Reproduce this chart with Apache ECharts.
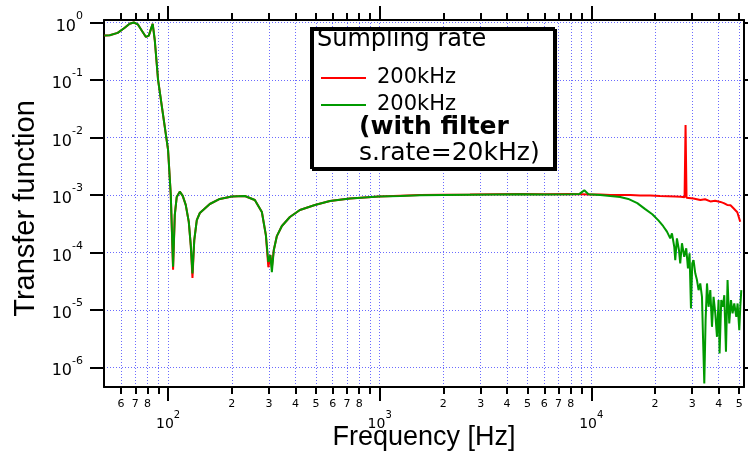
<!DOCTYPE html>
<html><head><meta charset="utf-8">
<script src="https://cdn.jsdelivr.net/npm/echarts@6/dist/echarts.min.js"></script>
<style>html,body{margin:0;padding:0;background:#fff;}#chart{width:748px;height:451px;}</style>
</head><body><div id="chart"></div>
<script>
// ---- data ----
const freqShared = [50, 53, 57.8, 62.4, 65.8, 68.9, 71.9, 75.2, 78.6, 81.1, 82.8, 84.6, 86.5, 89.7, 94.4,
  100, 103, 105.6, 107.6, 109.9, 113.6, 117.3, 121.2, 125.3, 128, 130.4, 133, 136.7, 141.3, 157.5,
  175.6, 200.2, 230.6, 257, 277.5, 289.9, 297.8, 304.4, 309.4, 316, 326.7, 345, 376.5, 419.8, 494,
  582, 723, 992, 1250, 1551, 2000, 2673, 3500, 4610, 6000, 7945];
const redShared = [0.594, 0.60, 0.66, 0.81, 0.95, 1.0, 0.93, 0.72, 0.56, 0.59, 0.75, 0.95, 0.5, 0.1, 0.0267,
  0.00605, 1.0e-3, 5.0e-5, 4.5e-4, 9.2e-4, 1.14e-3, 9.6e-4, 6.7e-4, 3.4e-4, 1.34e-4, 3.6e-5, 1.64e-4, 3.65e-4, 4.84e-4, 6.94e-4,
  8.5e-4, 9.38e-4, 9.57e-4, 8.15e-4, 5.04e-4, 2.0e-4, 5.5e-5, 9.0e-5, 5.5e-5, 1.1e-4, 1.92e-4, 2.88e-4, 4.12e-4, 5.46e-4, 6.67e-4,
  7.83e-4, 8.65e-4, 9.38e-4, 9.7e-4, 9.96e-4, 1.01e-3, 1.016e-3, 1.03e-3, 1.04e-3, 1.03e-3, 1.04e-3];
const greenShared = [0.594, 0.60, 0.66, 0.81, 0.95, 1.0, 0.93, 0.72, 0.56, 0.59, 0.75, 0.95, 0.5, 0.1, 0.0267,
  0.00605, 1.0e-3, 5.6e-5, 4.5e-4, 9.2e-4, 1.14e-3, 9.6e-4, 6.7e-4, 3.4e-4, 1.34e-4, 4.3e-5, 1.64e-4, 3.65e-4, 4.84e-4, 6.94e-4,
  8.5e-4, 9.38e-4, 9.57e-4, 8.15e-4, 5.04e-4, 2.0e-4, 6.8e-5, 9.0e-5, 4.5e-5, 1.1e-4, 1.92e-4, 2.88e-4, 4.12e-4, 5.46e-4, 6.67e-4,
  7.83e-4, 8.65e-4, 9.38e-4, 9.6e-4, 9.9e-4, 1.0e-3, 1.01e-3, 1.02e-3, 1.03e-3, 1.02e-3, 1.03e-3];
const freqRedHigh = [9000, 9900, 11020, 12300, 13700, 15300, 17000, 19000, 21130, 23000, 24900, 26500, 27600, 27900, 28200,
  30370, 32780, 34500, 36540, 38500, 40750, 42300, 43900, 45500, 46880, 49000, 50580];
const redHigh = [1.03e-3, 1.02e-3, 1.016e-3, 1.0e-3, 9.96e-4, 1.0e-3, 9.76e-4, 9.8e-4, 9.57e-4, 9.5e-4, 9.4e-4, 9.3e-4, 9.1e-4, 1.65e-2, 8.9e-4,
  8.65e-4, 8.15e-4, 8.4e-4, 7.7e-4, 7.9e-4, 7.55e-4, 7.2e-4, 6.7e-4, 6.6e-4, 5.9e-4, 5.0e-4, 3.4e-4];
const freqGreenHigh = [8800, 9270, 9700, 11020, 12290, 13700, 14960, 16500, 17990, 19430, 20760, 21880, 22790, 23620, 24060,
  24670, 24940, 25400, 25960, 26330, 26830, 27500, 28110, 28640, 29140, 29590, 30010, 30440, 31010, 31590,
  32150, 32740, 33360, 33730, 34210, 34700, 35230, 35850, 36520, 37200, 37840, 38560, 39270, 39960, 40400,
  41150, 41920, 42520, 43310, 44070, 44890, 45740, 46540, 47410, 48460, 49150, 50060, 50620, 51170];
const greenHigh = [1.04e-3, 1.2e-3, 1.03e-3, 1.0e-3, 9.57e-4, 9.2e-4, 8.5e-4, 7.2e-4, 5.65e-4, 4.6e-4, 3.6e-4, 2.85e-4, 2.29e-4, 1.75e-4, 2.14e-4,
  1.25e-4, 7.34e-5, 1.75e-4, 1.1e-4, 6.43e-5, 1.44e-4, 8.38e-5, 1.18e-4, 5.26e-5, 9.6e-5, 1.06e-5, 6.43e-5, 7.34e-5, 4.31e-5, 3.29e-5,
  2.2e-5, 2.88e-5, 1.68e-5, 3.39e-6, 5.22e-7, 6.6e-6, 2.88e-5, 1.13e-5, 2.2e-5, 5.06e-6, 1.68e-5, 8.65e-6, 3.39e-6, 1.48e-5, 1.74e-6,
  1.48e-5, 1.13e-5, 1.8e-5, 1.86e-6, 3.29e-5, 5.8e-6, 1.48e-5, 8.65e-6, 1.29e-5, 7.55e-6, 1.29e-5, 4.43e-6, 1.13e-5, 2.2e-5];

const xMajorTicks = [100, 1000, 10000];
const xMinorTicks = [60, 70, 80, 90, 200, 300, 400, 500, 600, 700, 800, 900, 2000, 3000, 4000, 5000, 6000, 7000, 8000, 9000, 20000, 30000, 40000, 50000];
const xMinorLabels = [60, 70, 80, 200, 300, 400, 500, 600, 700, 800, 2000, 3000, 4000, 5000, 6000, 7000, 8000, 20000, 30000, 40000, 50000];
const yTicks = [1e-6, 1e-5, 1e-4, 1e-3, 1e-2, 1e-1, 1];
const xRange = [49.8, 52700];
const yRange = [4.54e-7, 1.105];
const seriesNames = ['200kHz', '200kHz (with filter, s.rate=20kHz)'];
const legendLabels = ['200kHz', '200kHz'];
const legendTitle = 'Sumpling rate';
const legendExtra = ['(with filter', 's.rate=20kHz)'];
const xName = 'Frequency [Hz]';
const yName = 'Transfer function';

// ---- build ----
const pairs = (f, v) => f.map((x, i) => [x, v[i]]);
const redData = pairs(freqShared, redShared).concat(pairs(freqRedHigh, redHigh));
const greenData = pairs(freqShared, greenShared).concat(pairs(freqGreenHigh, greenHigh));

const powLabel = v => '{s|\u200b}{b|10}{e|' + Math.round(Math.log10(v)) + '}';
const digitLabel = v => String(Math.round(v / Math.pow(10, Math.floor(Math.log10(v) + 1e-9))));
const FONT = 'DejaVu Sans';
const TITLEFONT = 'Liberation Sans';
const tickLine = { color: '#000', width: 2 };
const gridStyle = { show: true, lineStyle: { color: '#6b6bff', width: 1, type: [1, 2] } };
const baseX = { type: 'log', logBase: 10, min: xRange[0], max: xRange[1], gridIndex: 0, minorTick: { show: false }, minorSplitLine: { show: false } };
const baseY = { type: 'log', logBase: 10, min: yRange[0], max: yRange[1], gridIndex: 0, minorTick: { show: false }, minorSplitLine: { show: false } };

const chart = echarts.init(document.getElementById('chart'), null, { renderer: 'canvas' });
chart.setOption({
  animation: false,
  backgroundColor: '#fff',
  textStyle: { fontFamily: FONT, color: '#000' },
  grid: { left: 104, right: 4, top: 20, bottom: 64, containLabel: false, outerBoundsMode: 'none' },
  xAxis: [
    Object.assign({}, baseX, {
      position: 'bottom', name: xName, nameLocation: 'middle', nameGap: 37, nameMoveOverlap: false,
      nameTextStyle: { fontFamily: TITLEFONT, fontSize: 27, color: '#000' },
      axisLine: { show: true, onZero: false, lineStyle: { color: '#000', width: 2 } },
      axisTick: { show: true, customValues: xMajorTicks, length: 14, lineStyle: tickLine },
      axisLabel: { show: true, customValues: xMajorTicks, margin: 23, formatter: powLabel, color: '#000',
        rich: { s: { lineHeight: 21, fontSize: 10 }, b: { fontFamily: FONT, fontSize: 14, lineHeight: 14, verticalAlign: 'bottom', color: '#000' },
                e: { fontFamily: FONT, fontSize: 10, lineHeight: 10, verticalAlign: 'top', color: '#000' } } },
      splitLine: gridStyle
    }),
    Object.assign({}, baseX, {
      position: 'bottom',
      axisLine: { show: false },
      axisTick: { show: true, customValues: xMinorTicks, length: 7, lineStyle: tickLine },
      axisLabel: { show: true, customValues: xMinorLabels, margin: 11, formatter: digitLabel, fontFamily: FONT, fontSize: 11, lineHeight: 12, color: '#000' },
      splitLine: gridStyle
    }),
    Object.assign({}, baseX, {
      position: 'top',
      axisLine: { show: true, onZero: false, lineStyle: { color: '#000', width: 2 } },
      axisTick: { show: true, customValues: xMajorTicks, length: 14, lineStyle: tickLine },
      axisLabel: { show: false }, splitLine: { show: false }
    }),
    Object.assign({}, baseX, {
      position: 'top',
      axisLine: { show: false },
      axisTick: { show: true, customValues: xMinorTicks, length: 7, lineStyle: tickLine },
      axisLabel: { show: false }, splitLine: { show: false }
    })
  ],
  yAxis: [
    Object.assign({}, baseY, {
      position: 'left', name: yName, nameLocation: 'middle', nameGap: 64, nameRotate: 90, nameMoveOverlap: false,
      nameTextStyle: { fontFamily: TITLEFONT, fontSize: 29, color: '#000', padding: [0, 10, 0, 0] },
      axisLine: { show: true, onZero: false, lineStyle: { color: '#000', width: 2 } },
      axisTick: { show: true, customValues: yTicks, length: 14, lineStyle: tickLine },
      axisLabel: { show: true, customValues: yTicks, margin: 21, formatter: powLabel, color: '#000',
        rich: { s: { lineHeight: 24, fontSize: 11 }, b: { fontFamily: FONT, fontSize: 16, lineHeight: 16, verticalAlign: 'bottom', color: '#000' },
                e: { fontFamily: FONT, fontSize: 11, lineHeight: 11, verticalAlign: 'top', color: '#000' } } },
      splitLine: gridStyle
    }),
    Object.assign({}, baseY, {
      position: 'right',
      axisLine: { show: true, onZero: false, lineStyle: { color: '#000', width: 2 } },
      axisTick: { show: true, customValues: yTicks, length: 14, lineStyle: tickLine },
      axisLabel: { show: false }, splitLine: { show: false }
    })
  ],
  legend: {
    show: true, orient: 'vertical', left: 320, top: 67.5, padding: 0, itemGap: 6,
    itemWidth: 45, itemHeight: 14, selectedMode: false, z: 10,
    data: seriesNames,
    itemStyle: { opacity: 0 },
    formatter: name => legendLabels[seriesNames.indexOf(name)],
    textStyle: { fontFamily: FONT, fontSize: 21, color: '#000', padding: [0, 0, 0, 6] }
  },
  graphic: [
    { type: 'rect', z: 5, shape: { x: 311, y: 28, width: 243, height: 140 },
      style: { fill: '#fff', stroke: '#000', lineWidth: 2, shadowColor: '#000', shadowOffsetX: 2, shadowOffsetY: 2, shadowBlur: 0 } },
    { type: 'text', z: 10, x: 317, y: 40, style: { text: legendTitle, font: '24px "DejaVu Sans"', fill: '#000', verticalAlign: 'middle', align: 'left' } },
    { type: 'text', z: 10, x: 359, y: 127.5, style: { text: legendExtra[0], font: 'bold 25px "DejaVu Sans"', fill: '#000', verticalAlign: 'middle', align: 'left' } },
    { type: 'text', z: 10, x: 359, y: 153, style: { text: legendExtra[1], font: '25px "DejaVu Sans"', fill: '#000', verticalAlign: 'middle', align: 'left' } }
  ],
  series: [
    { name: seriesNames[0], type: 'line', xAxisIndex: 0, yAxisIndex: 0, data: redData, symbol: 'none', showSymbol: false,
      lineStyle: { color: '#ff0000', width: 2 }, itemStyle: { color: '#ff0000' }, z: 2 },
    { name: seriesNames[1], type: 'line', xAxisIndex: 0, yAxisIndex: 0, data: greenData, symbol: 'none', showSymbol: false,
      lineStyle: { color: '#009a00', width: 2 }, itemStyle: { color: '#009a00' }, z: 3 }
  ]
});
</script>
</body></html>
